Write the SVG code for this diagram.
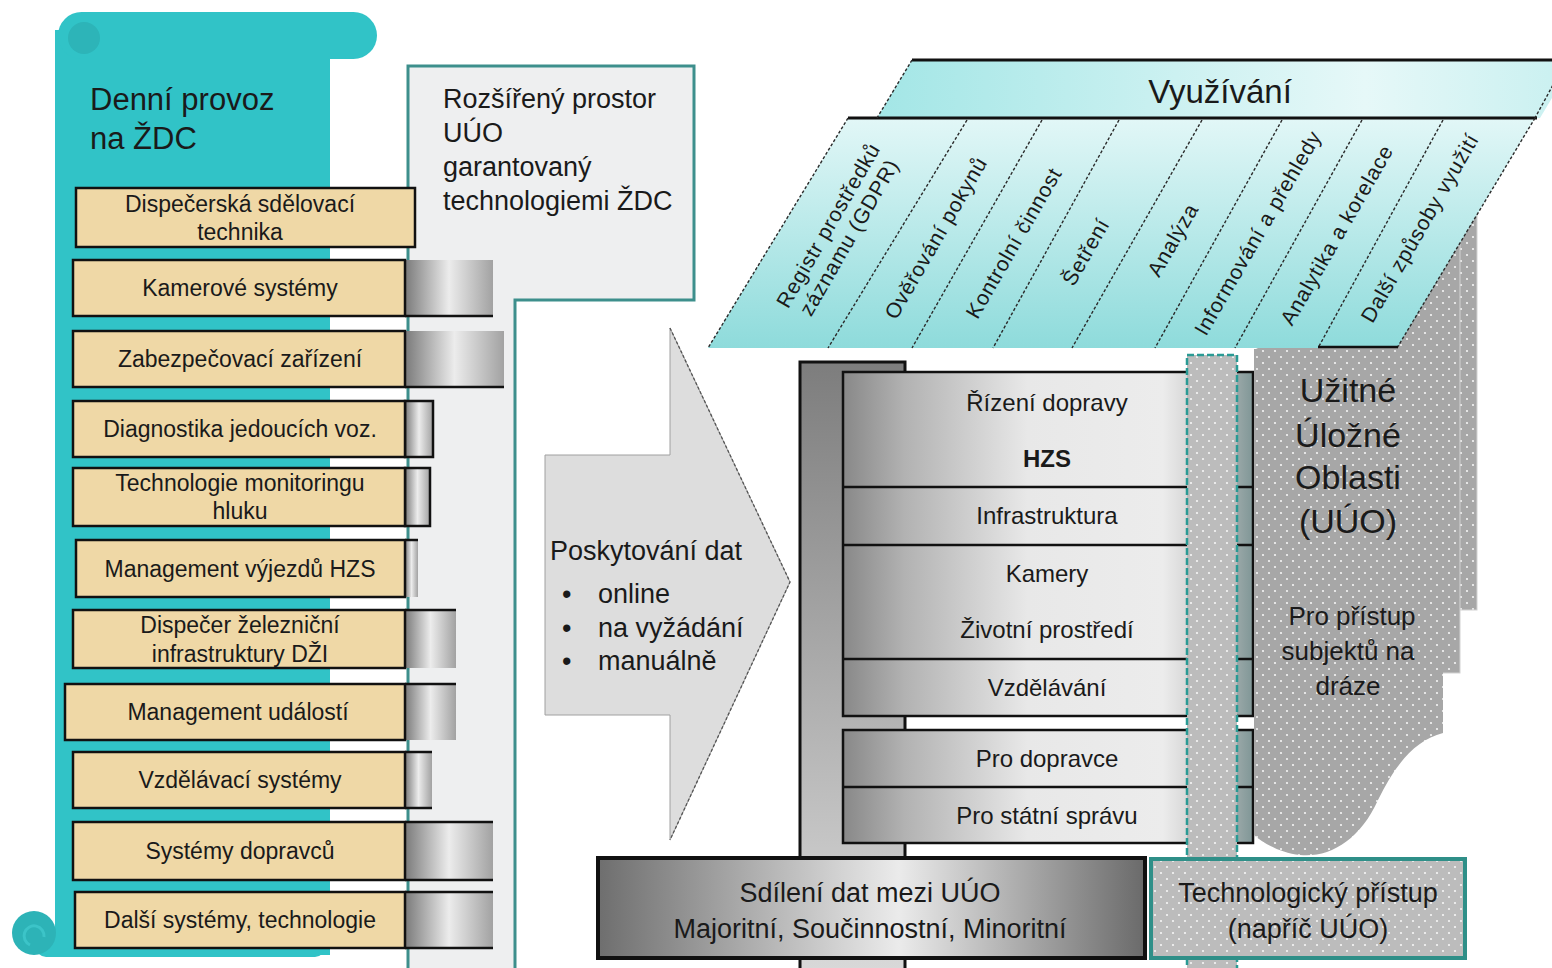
<svg xmlns="http://www.w3.org/2000/svg" width="1552" height="968" viewBox="0 0 1552 968">
<defs>
<style>
.t{font-family:"Liberation Sans",Arial,sans-serif;fill:#1a1a1a}
.bx{font-size:23px;text-anchor:middle}
.rw{font-size:24px;text-anchor:middle}
.rot{font-size:21px;text-anchor:middle;letter-spacing:0.8px}
.tan{fill:#efd8a6;stroke:#111;stroke-width:2.5}
.ext{fill:url(#gExt)}
.blk{stroke:#111;stroke-width:2.5;fill:none}
.sep{stroke:#2a2a2a;stroke-width:1.4;stroke-dasharray:3 2;fill:none}
</style>
<linearGradient id="gExt" x1="0" y1="0" x2="1" y2="0">
<stop offset="0" stop-color="#7a7a7a"/><stop offset="0.5" stop-color="#ececec"/><stop offset="1" stop-color="#a2a2a2"/>
</linearGradient>
<linearGradient id="gRow" gradientUnits="userSpaceOnUse" x1="843" y1="0" x2="1253" y2="0">
<stop offset="0" stop-color="#888"/><stop offset="0.15" stop-color="#b2b2b2"/><stop offset="0.45" stop-color="#e8e8e8"/><stop offset="0.78" stop-color="#ececec"/><stop offset="0.9" stop-color="#c4c4c4"/><stop offset="1" stop-color="#7f9696"/>
</linearGradient>
<linearGradient id="gCol" x1="0" y1="0" x2="0" y2="1">
<stop offset="0" stop-color="#7d7d7d"/><stop offset="1" stop-color="#dadada"/>
</linearGradient>
<linearGradient id="gShare" gradientUnits="userSpaceOnUse" x1="598" y1="0" x2="1145" y2="0">
<stop offset="0" stop-color="#6e6e6e"/><stop offset="0.55" stop-color="#ebebeb"/><stop offset="1" stop-color="#6a6a6a"/>
</linearGradient>
<linearGradient id="gBand" x1="0" y1="0" x2="1" y2="0">
<stop offset="0" stop-color="#a3e6e6"/><stop offset="0.7" stop-color="#e6f8f8"/><stop offset="1" stop-color="#c8f0f0"/>
</linearGradient>
<linearGradient id="gCols" gradientUnits="userSpaceOnUse" x1="0" y1="118" x2="0" y2="348">
<stop offset="0" stop-color="#e2f7f7"/><stop offset="1" stop-color="#8edbdb"/>
</linearGradient>
<pattern id="dots" width="12" height="12" patternUnits="userSpaceOnUse">
<rect width="12" height="12" fill="#a7a7a7"/><circle cx="3" cy="3" r="1.1" fill="#f4f4f4"/><circle cx="9" cy="9" r="1.1" fill="#f4f4f4"/>
</pattern>
<pattern id="dots2" width="12" height="12" patternUnits="userSpaceOnUse">
<rect width="12" height="12" fill="#bcbcbc"/><circle cx="3" cy="3" r="1.1" fill="#f6f6f6"/><circle cx="9" cy="9" r="1.1" fill="#f6f6f6"/>
</pattern>
</defs>
<rect width="1552" height="968" fill="#fff"/>

<g id="node-denni-provoz">
<rect x="55" y="30" width="275" height="925" fill="#31c3c7"/>
<rect x="58" y="12" width="319" height="47" rx="23.5" fill="#31c3c7"/>
<circle cx="84" cy="38" r="16" fill="#2db4b8"/>
<rect x="36" y="935" width="289" height="22" rx="10" fill="#31c3c7"/>
<circle cx="34" cy="933" r="22" fill="#2db3b7"/>
<path d="M30,945 a10,10 0 1,1 14,-8" fill="none" stroke="#3cc4c8" stroke-width="3"/>
<text class="t" x="90" y="110" font-size="31" fill="#1b2d45">Denní provoz</text>
<text class="t" x="90" y="149" font-size="31" fill="#1b2d45">na ŽDC</text>
</g>

<g id="node-rozsireny-prostor">
<path d="M408,66 H694 V300 H515 V975 H408 Z" fill="#eeeff0" stroke="#3d8f8c" stroke-width="3"/>
<text class="t" font-size="27"><tspan x="443" y="108">Rozšířený prostor</tspan><tspan x="443" y="142">UÚO</tspan><tspan x="443" y="176">garantovaný</tspan><tspan x="443" y="210">technologiemi ŽDC</tspan></text>
</g>

<g id="node-systemy">
<rect class="tan" x="76" y="188" width="339" height="59"/>
<text class="t bx" x="240" y="212">Dispečerská sdělovací</text>
<text class="t bx" x="240" y="240">technika</text>

<rect class="ext" x="405" y="260" width="88" height="56"/>
<line class="blk" x1="405" y1="316" x2="493" y2="316"/>
<rect class="tan" x="73" y="260" width="332" height="56"/>
<text class="t bx" x="240" y="296">Kamerové systémy</text>

<rect class="ext" x="405" y="331" width="99" height="56"/>
<line class="blk" x1="405" y1="387" x2="504" y2="387"/>
<rect class="tan" x="73" y="331" width="332" height="56"/>
<text class="t bx" x="240" y="367">Zabezpečovací zařízení</text>

<rect class="ext" x="405" y="401" width="28" height="56" stroke="#111" stroke-width="2.5"/>
<rect class="tan" x="73" y="401" width="332" height="56"/>
<text class="t bx" x="240" y="437">Diagnostika jedoucích voz.</text>

<rect class="ext" x="405" y="468" width="25" height="58" stroke="#111" stroke-width="2.5"/>
<rect class="tan" x="73" y="468" width="332" height="58"/>
<text class="t bx" x="240" y="491">Technologie monitoringu</text>
<text class="t bx" x="240" y="519">hluku</text>

<rect class="ext" x="405" y="540" width="13" height="57"/>
<line class="blk" x1="405" y1="540" x2="418" y2="540"/>
<rect class="tan" x="76" y="540" width="329" height="57"/>
<text class="t bx" x="240" y="577">Management výjezdů HZS</text>

<rect class="ext" x="405" y="610" width="51" height="58"/>
<line class="blk" x1="405" y1="610" x2="456" y2="610"/>
<rect class="tan" x="73" y="610" width="332" height="58"/>
<text class="t bx" x="240" y="633">Dispečer železniční</text>
<text class="t bx" x="240" y="662">infrastruktury DŽI</text>

<rect class="ext" x="405" y="684" width="51" height="56"/>
<line class="blk" x1="405" y1="684" x2="456" y2="684"/>
<rect class="tan" x="65" y="684" width="340" height="56"/>
<text class="t bx" x="238" y="720">Management událostí</text>

<rect class="ext" x="405" y="752" width="27" height="56"/>
<line class="blk" x1="405" y1="752" x2="432" y2="752"/>
<line class="blk" x1="405" y1="808" x2="432" y2="808"/>
<rect class="tan" x="73" y="752" width="332" height="56"/>
<text class="t bx" x="240" y="788">Vzdělávací systémy</text>

<rect class="ext" x="405" y="822" width="88" height="58"/>
<line class="blk" x1="405" y1="822" x2="493" y2="822"/>
<line class="blk" x1="405" y1="880" x2="493" y2="880"/>
<rect class="tan" x="73" y="822" width="332" height="58"/>
<text class="t bx" x="240" y="859">Systémy dopravců</text>

<rect class="ext" x="405" y="892" width="88" height="56"/>
<line class="blk" x1="405" y1="892" x2="493" y2="892"/>
<line class="blk" x1="405" y1="948" x2="493" y2="948"/>
<rect class="tan" x="75" y="892" width="330" height="56"/>
<text class="t bx" x="240" y="928">Další systémy, technologie</text>
</g>

<g id="node-poskytovani">
<polygon points="545,455 670,455 670,328 790,582 670,840 670,715 545,715" fill="#dddddd" stroke="#a0a0a0" stroke-width="1"/>
<polyline points="670,328 790,582 670,840" fill="none" stroke="#555" stroke-width="1.3" stroke-dasharray="3 2"/>
<text class="t" font-size="27"><tspan x="550" y="560">Poskytování dat</tspan></text>
<text class="t" font-size="27"><tspan x="562" y="603">•</tspan><tspan x="598" y="603">online</tspan></text>
<text class="t" font-size="27"><tspan x="562" y="637">•</tspan><tspan x="598" y="637">na vyžádání</tspan></text>
<text class="t" font-size="27"><tspan x="562" y="670">•</tspan><tspan x="598" y="670">manuálně</tspan></text>
</g>

<g id="node-uuo-layers">
<rect x="1262" y="200" width="215" height="410" fill="url(#dots)" stroke="#d2d2d2" stroke-width="1"/>
<rect x="1257" y="208" width="203" height="465" fill="url(#dots)" stroke="#d2d2d2" stroke-width="1"/>
</g>

<g id="node-vyuzivani">
<polygon points="912,60 1575,60 1540,118 877,118" fill="url(#gBand)"/>
<polygon points="848,118 1535,118 1397,348 708,348" fill="url(#gCols)"/>
<line x1="912" y1="60" x2="1552" y2="60" stroke="#111" stroke-width="3"/>
<line x1="848" y1="118" x2="1537" y2="118" stroke="#111" stroke-width="3"/>
<line x1="912" y1="60" x2="877" y2="118" class="sep"/>
<line x1="1560" y1="72" x2="1535" y2="118" class="sep"/>
<line x1="848" y1="118" x2="708" y2="348" class="sep"/>
<line x1="967" y1="120" x2="828" y2="348" class="sep"/>
<line x1="1042" y1="120" x2="912" y2="348" class="sep"/>
<line x1="1119" y1="120" x2="993" y2="348" class="sep"/>
<line x1="1202" y1="120" x2="1072" y2="348" class="sep"/>
<line x1="1282" y1="120" x2="1155" y2="348" class="sep"/>
<line x1="1362" y1="120" x2="1235" y2="348" class="sep"/>
<line x1="1443" y1="120" x2="1318" y2="348" class="sep"/>
<line x1="1535" y1="118" x2="1397" y2="348" class="sep"/>
<line x1="1318" y1="347" x2="1398" y2="347" stroke="#111" stroke-width="2.5"/>
<text class="t" x="1220" y="103" font-size="33" text-anchor="middle">Využívání</text>
<g transform="translate(838,231) rotate(-60)"><text class="t rot" y="-4">Registr prostředků</text><text class="t rot" y="20">záznamu (GDPR)</text></g>
<text class="t rot" transform="translate(936,238) rotate(-60)" y="7">Ověřování pokynů</text>
<text class="t rot" transform="translate(1014,243) rotate(-60)" y="7">Kontrolní činnost</text>
<text class="t rot" transform="translate(1086,252) rotate(-60)" y="7">Šetření</text>
<text class="t rot" transform="translate(1173,240) rotate(-60)" y="7">Analýza</text>
<text class="t rot" transform="translate(1258,233) rotate(-60)" y="7">Informování a přehledy</text>
<text class="t rot" transform="translate(1337,235) rotate(-60)" y="7">Analytika a korelace</text>
<text class="t rot" transform="translate(1420,228) rotate(-60)" y="7">Další způsoby využití</text>
</g>

<g id="node-sloupec">
<rect x="800" y="362" width="105" height="620" fill="url(#gCol)" stroke="#111" stroke-width="3"/>
</g>

<g id="node-oblasti">
<rect x="843" y="372" width="410" height="344" fill="url(#gRow)" stroke="#111" stroke-width="2.5"/>
<line class="blk" x1="843" y1="487" x2="1253" y2="487"/>
<line class="blk" x1="843" y1="545" x2="1253" y2="545"/>
<line class="blk" x1="843" y1="659" x2="1253" y2="659"/>
<rect x="843" y="730" width="410" height="113" fill="url(#gRow)" stroke="#111" stroke-width="2.5"/>
<line class="blk" x1="843" y1="787" x2="1253" y2="787"/>
<text class="t rw" x="1047" y="411">Řízení dopravy</text>
<text class="t rw" x="1047" y="467" font-weight="bold">HZS</text>
<text class="t rw" x="1047" y="524">Infrastruktura</text>
<text class="t rw" x="1047" y="582">Kamery</text>
<text class="t rw" x="1047" y="638">Životní prostředí</text>
<text class="t rw" x="1047" y="696">Vzdělávání</text>
<text class="t rw" x="1047" y="767">Pro dopravce</text>
<text class="t rw" x="1047" y="824">Pro státní správu</text>
</g>

<g id="node-uuo">
<path d="M1254,349 H1443 V733 C1415,740 1395,765 1378,800 C1360,840 1330,858 1300,855 C1280,853 1263,843 1254,835 Z" fill="url(#dots)"/>
<text class="t" font-size="34" text-anchor="middle"><tspan x="1348" y="402">Užitné</tspan><tspan x="1348" y="447">Úložné</tspan><tspan x="1348" y="489">Oblasti</tspan><tspan x="1348" y="533">(UÚO)</tspan></text>
<text class="t" font-size="26" text-anchor="middle"><tspan x="1352" y="625">Pro přístup</tspan><tspan x="1348" y="660">subjektů na</tspan><tspan x="1348" y="695">dráze</tspan></text>
</g>

<g id="connectors">
<rect x="1187" y="355" width="50" height="625" fill="url(#dots2)" stroke="#2a9a94" stroke-width="2.5" stroke-dasharray="7 3"/>
</g>

<g id="node-sdileni">
<rect x="598" y="858" width="547" height="100" fill="url(#gShare)" stroke="#111" stroke-width="4"/>
<text class="t" font-size="27" text-anchor="middle"><tspan x="870" y="902">Sdílení dat mezi UÚO</tspan><tspan x="870" y="938">Majoritní, Součinnostní, Minoritní</tspan></text>
</g>

<g id="node-technologicky">
<rect x="1151" y="859" width="314" height="99" fill="url(#dots2)" stroke="#2f8f88" stroke-width="4"/>
<text class="t" font-size="27" text-anchor="middle"><tspan x="1308" y="902">Technologický přístup</tspan><tspan x="1308" y="938">(napříč UÚO)</tspan></text>
</g>
</svg>
